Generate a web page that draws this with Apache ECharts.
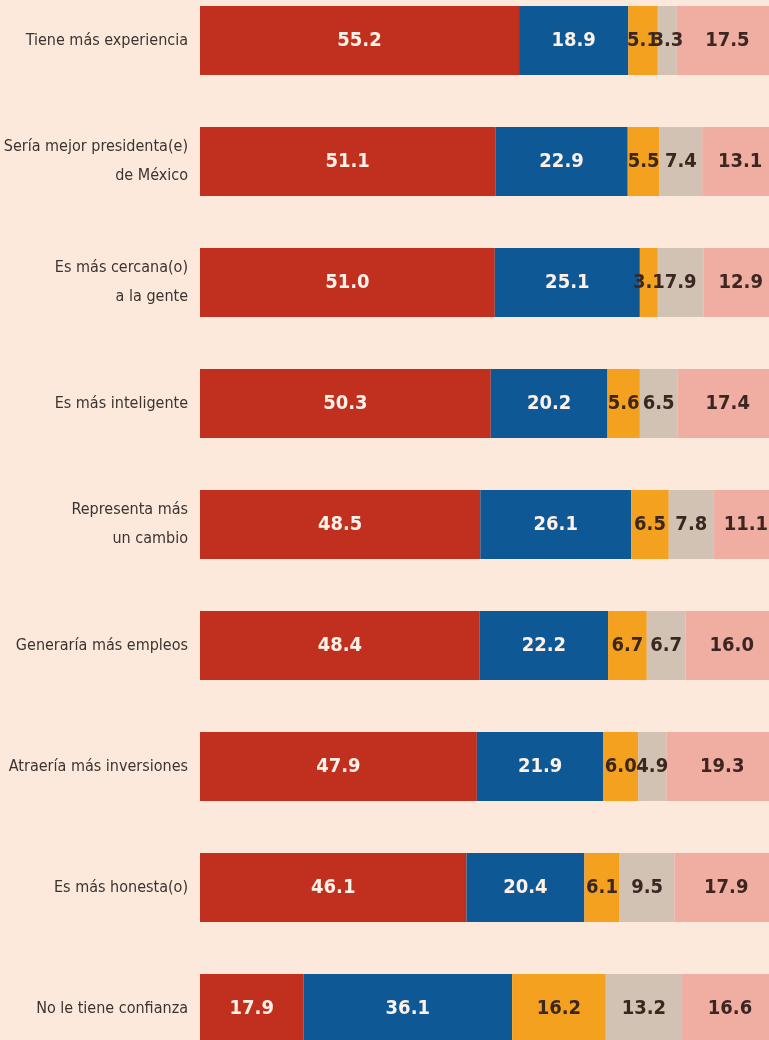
<!DOCTYPE html>
<html>
<head>
<meta charset="utf-8">
<script src="https://cdn.jsdelivr.net/npm/echarts@6/dist/echarts.min.js"></script>
<style>
  html, body { margin: 0; padding: 0; background: #fde9dc; }
  #chart { width: 769px; height: 1040px; }
</style>
</head>
<body>
<div id="chart"></div>
<script>
// categorias (de arriba hacia abajo)
var categorias = [
  'Tiene más experiencia',
  'Sería mejor presidenta(e)\nde México',
  'Es más cercana(o)\na la gente',
  'Es más inteligente',
  'Representa más\nun cambio',
  'Generaría más empleos',
  'Atraería más inversiones',
  'Es más honesta(o)',
  'No le tiene confianza'
];
var rojo    = [55.2, 51.1, 51.0, 50.3, 48.5, 48.4, 47.9, 46.1, 17.9];
var azul    = [18.9, 22.9, 25.1, 20.2, 26.1, 22.2, 21.9, 20.4, 36.1];
var naranja = [5.1, 5.5, 3.1, 5.6, 6.5, 6.7, 6.0, 6.1, 16.2];
var gris    = [3.3, 7.4, 7.9, 6.5, 7.8, 6.7, 4.9, 9.5, 13.2];
var rosa    = [17.5, 13.1, 12.9, 17.4, 11.1, 16.0, 19.3, 17.9, 16.6];

// fuente angosta: DejaVu Sans con font-stretch condensed
var fuente = '"DejaVu Sans", sans-serif';

function serie(nombre, datos, color, colorTexto) {
  return {
    name: nombre,
    type: 'bar',
    stack: 'total',
    barWidth: 69,
    data: datos,
    itemStyle: { color: color },
    label: {
      show: true,
      position: 'inside',
      color: colorTexto,
      fontFamily: fuente,
      fontWeight: 'bold condensed',
      fontSize: 20,
      formatter: function (p) { return p.value.toFixed(1); }
    }
  };
}

var chart = echarts.init(document.getElementById('chart'));
chart.setOption({
  backgroundColor: '#fde9dc',
  animation: false,
  grid: { left: 200, right: -9, top: -20, bottom: -29, outerBoundsMode: 'none', containLabel: false },
  xAxis: {
    type: 'value',
    min: 0,
    max: 100,
    show: false
  },
  yAxis: {
    type: 'category',
    inverse: true,
    data: categorias,
    axisLine: { show: false },
    axisTick: { show: false },
    splitLine: { show: false },
    axisLabel: {
      margin: 12,
      color: '#3a3430',
      fontFamily: fuente,
      fontWeight: 'normal condensed',
      fontSize: 16,
      lineHeight: 29,
      align: 'right'
    }
  },
  series: [
    serie('rojo', rojo, '#c1301e', '#fdf1e8'),
    serie('azul', azul, '#0d5895', '#fdf1e8'),
    serie('naranja', naranja, '#f4a11f', '#3b2620'),
    serie('gris', gris, '#d2c2b4', '#3b2620'),
    serie('rosa', rosa, '#f0ada2', '#3b2620')
  ]
});
</script>
</body>
</html>
